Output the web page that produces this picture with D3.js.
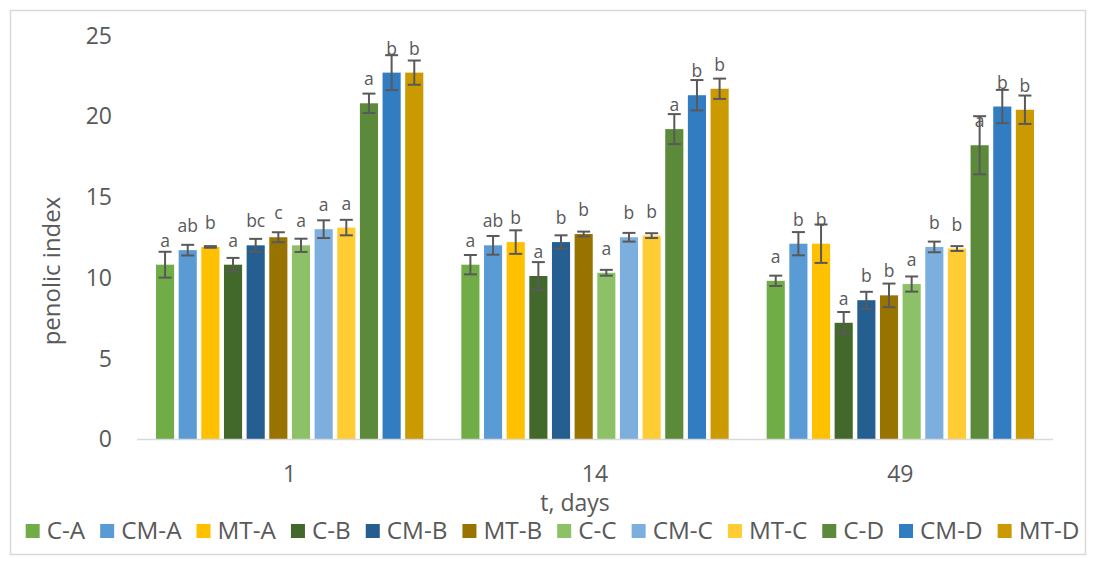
<!DOCTYPE html>
<html>
<head>
<meta charset="utf-8">
<script src="https://cdn.jsdelivr.net/npm/d3@7"></script>
<style>
  body { margin: 0; background: #fff; }
  svg text { font-family: "Open Sans", sans-serif; fill: #595959; }
</style>
</head>
<body>
<svg id="chart" width="1094" height="564"></svg>
<script>
// categories on the x axis (days)
const days = ['1', '14', '49'];

// the twelve series, in legend order
const seriesNames = ['C-A', 'CM-A', 'MT-A', 'C-B', 'CM-B', 'MT-B',
                     'C-C', 'CM-C', 'MT-C', 'C-D', 'CM-D', 'MT-D'];
const seriesColors = ['#70AD47', '#5B9BD5', '#FFC000', '#43682B', '#255E91', '#997300',
                      '#8CC168', '#7CAFDD', '#FFCD33', '#5B8B3A', '#327DC2', '#CA9A00'];

// penolic index, one value per series
const day1Values  = [10.8, 11.7, 11.9, 10.8, 12.0, 12.5, 12.0, 13.0, 13.1, 20.8, 22.7, 22.7];
const day14Values = [10.8, 12.0, 12.2, 10.1, 12.2, 12.7, 10.3, 12.5, 12.6, 19.2, 21.3, 21.7];
const day49Values = [9.8, 12.1, 12.1, 7.2, 8.6, 8.9, 9.6, 11.9, 11.8, 18.2, 20.6, 20.4];

// error bar half-lengths
const day1Err  = [0.80, 0.33, 0.05, 0.42, 0.40, 0.31, 0.41, 0.55, 0.48, 0.60, 1.08, 0.75];
const day14Err = [0.60, 0.58, 0.73, 0.86, 0.42, 0.15, 0.18, 0.27, 0.15, 0.93, 0.94, 0.63];
const day49Err = [0.32, 0.72, 1.19, 0.67, 0.52, 0.73, 0.47, 0.33, 0.15, 1.80, 1.03, 0.88];

// significance letters above the bars
const day1Letters  = ['a', 'ab', 'b', 'a', 'bc', 'c', 'a', 'a', 'a', 'a', 'b', 'b'];
const day14Letters = ['a', 'ab', 'b', 'a', 'b', 'b', 'a', 'b', 'b', 'a', 'b', 'b'];
const day49Letters = ['a', 'b', 'b', 'a', 'b', 'b', 'a', 'b', 'b', 'a', 'b', 'b'];

const yTicks = [0, 5, 10, 15, 20, 25];

const valuesByDay = [day1Values, day14Values, day49Values];
const errByDay = [day1Err, day14Err, day49Err];
const lettersByDay = [day1Letters, day14Letters, day49Letters];

const rows = [];
days.forEach((day, i) => {
    seriesNames.forEach((name, j) => {
        rows.push({
            day, name,
            color: seriesColors[j],
            value: valuesByDay[i][j],
            err: errByDay[i][j],
            letter: lettersByDay[i][j]
        });
    });
});

const svg = d3.select('#chart');
const plot = { left: 137, right: 1053, top: 35.5, bottom: 439 };

// outer chart border
svg.append('rect')
    .attr('x', 10.5).attr('y', 10.5)
    .attr('width', 1075).attr('height', 544)
    .attr('fill', '#fff')
    .attr('stroke', '#d9d9d9')
    .attr('stroke-width', 1.5);

const x0 = d3.scaleBand().domain(days).range([plot.left, plot.right]);
const x1 = d3.scaleBand().domain(seriesNames)
    .range([19, x0.bandwidth() - 19])
    .paddingInner(0.2);
const y = d3.scaleLinear().domain([0, 25]).range([plot.bottom, plot.top]);

// y axis labels (no axis line, no gridlines)
svg.append('g').selectAll('text')
    .data(yTicks)
    .join('text')
    .attr('x', 112)
    .attr('y', d => y(d))
    .attr('dy', '0.36em')
    .attr('text-anchor', 'end')
    .attr('font-size', 23)
    .text(d => d);

// bars
const groups = svg.append('g').selectAll('g')
    .data(days)
    .join('g')
    .attr('transform', d => `translate(${x0(d)},0)`);

const barsFor = day => rows.filter(r => r.day === day);

groups.selectAll('rect')
    .data(barsFor)
    .join('rect')
    .attr('x', d => x1(d.name))
    .attr('y', d => y(d.value))
    .attr('width', x1.bandwidth())
    .attr('height', d => y(0) - y(d.value))
    .attr('fill', d => d.color);

// error bars
const errG = groups.selectAll('g.err')
    .data(barsFor)
    .join('g')
    .attr('class', 'err')
    .attr('stroke', '#595959')
    .attr('stroke-width', 2);

const cx = d => x1(d.name) + x1.bandwidth() / 2;
errG.append('line')
    .attr('x1', cx).attr('x2', cx)
    .attr('y1', d => y(d.value + d.err))
    .attr('y2', d => y(d.value - d.err));
[1, -1].forEach(sign => {
    errG.append('line')
        .attr('x1', d => cx(d) - 6.5).attr('x2', d => cx(d) + 6.5)
        .attr('y1', d => y(d.value + sign * d.err))
        .attr('y2', d => y(d.value + sign * d.err));
});

// letters
groups.selectAll('text.letter')
    .data(barsFor)
    .join('text')
    .attr('class', 'letter')
    .attr('x', cx)
    .attr('y', d => y(d.value) - 18)
    .attr('text-anchor', 'middle')
    .attr('font-size', 17.5)
    .text(d => d.letter);

// x axis line
svg.append('line')
    .attr('x1', plot.left).attr('x2', plot.right)
    .attr('y1', plot.bottom + 0.5).attr('y2', plot.bottom + 0.5)
    .attr('stroke', '#d9d9d9')
    .attr('stroke-width', 1.5);

// x tick labels
svg.append('g').selectAll('text')
    .data(days)
    .join('text')
    .attr('x', d => x0(d) + x0.bandwidth() / 2)
    .attr('y', 482)
    .attr('text-anchor', 'middle')
    .attr('font-size', 23)
    .text(d => d);

// axis titles
svg.append('text')
    .attr('x', 575).attr('y', 511)
    .attr('text-anchor', 'middle')
    .attr('font-size', 23)
    .text('t, days');

svg.append('text')
    .attr('transform', 'translate(60,271) rotate(-90)')
    .attr('text-anchor', 'middle')
    .attr('font-size', 24)
    .text('penolic index');

// legend, laid out from measured text widths and centred
const legend = svg.append('g');
const items = legend.selectAll('g')
    .data(seriesNames)
    .join('g');
items.append('rect')
    .attr('y', 524)
    .attr('width', 14).attr('height', 14)
    .attr('fill', (d, i) => seriesColors[i]);
items.append('text')
    .attr('x', 21)
    .attr('y', 538.5)
    .attr('font-size', 24.3)
    .text(d => d);

let cursor = 0;
const offsets = [];
items.each(function () {
    offsets.push(cursor);
    const w = d3.select(this).select('text').node().getComputedTextLength();
    cursor += 21 + w + 15;
});
const totalWidth = cursor - 15;
const startX = 552.5 - totalWidth / 2;
items.attr('transform', (d, i) => `translate(${startX + offsets[i]},0)`);
</script>
</body>
</html>
